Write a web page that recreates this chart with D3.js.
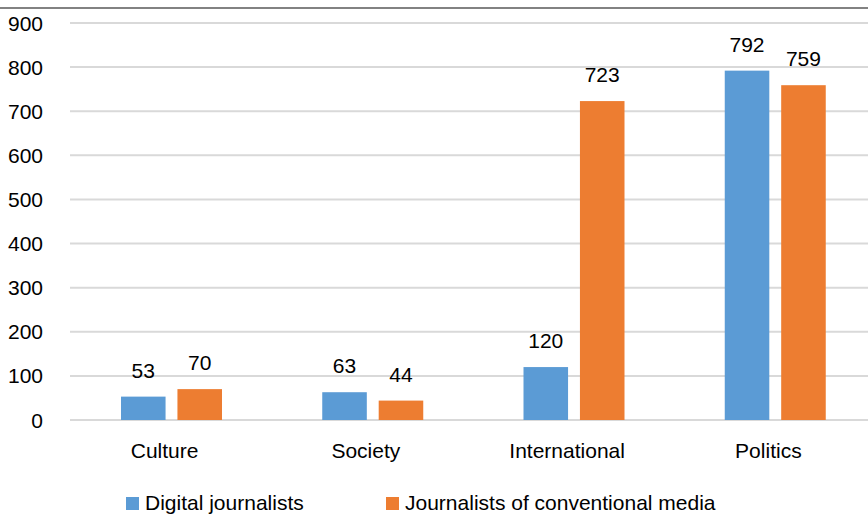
<!DOCTYPE html>
<html><head><meta charset="utf-8">
<script src="https://cdn.jsdelivr.net/npm/d3@7"></script>
<style>body{margin:0;background:#fff}svg{display:block;font-family:"Liberation Sans",Arial,sans-serif}</style>
</head><body><svg id="c" width="868" height="517"></svg>
<script>
const categories = ["Culture","Society","International","Politics"];
const seriesNames = ["Digital journalists","Journalists of conventional media"];
const digital = [53,63,120,792];
const conventional = [70,44,723,759];
const yTicks = [0,100,200,300,400,500,600,700,800,900];
const colors = ["#5B9BD5","#ED7D31"];

const svg = d3.select("#c");
const W = 868, H = 517;
const x0 = d3.scaleBand().domain(categories).range([71, 876]).padding(0);
const x1 = d3.scaleBand().domain(seriesNames).range([50, 151]).paddingInner(12/57).paddingOuter(0);
const y = d3.scaleLinear().domain([0, 900]).range([420, 23]);

// top border line
svg.append("line").attr("x1",0).attr("x2",W).attr("y1",8).attr("y2",8)
  .attr("stroke","#595959").attr("stroke-width",1.5);

// gridlines
svg.append("g").selectAll("line").data(yTicks).join("line")
  .attr("x1",70).attr("x2",W).attr("y1",d=>y(d)).attr("y2",d=>y(d))
  .attr("stroke","#D9D9D9").attr("stroke-width",2);

// y tick labels
svg.append("g").selectAll("text").data(yTicks).join("text")
  .attr("x",43).attr("y",d=>y(d)).attr("dy","0.36em").attr("text-anchor","end")
  .attr("font-size",21).attr("fill","#000").text(d=>d);

const data = categories.map((c,i)=>({cat:c, vals:[digital[i], conventional[i]]}));
const g = svg.append("g").selectAll("g").data(data).join("g")
  .attr("transform",d=>`translate(${x0(d.cat)},0)`);
g.selectAll("rect").data(d=>d.vals.map((v,j)=>({s:seriesNames[j],v,j}))).join("rect")
  .attr("x",d=>x1(d.s)).attr("width",x1.bandwidth())
  .attr("y",d=>y(d.v)).attr("height",d=>y(0)-y(d.v))
  .attr("fill",d=>colors[d.j]);
g.selectAll("text.v").data(d=>d.vals.map((v,j)=>({s:seriesNames[j],v,j}))).join("text")
  .attr("class","v")
  .attr("x",d=>x1(d.s)+x1.bandwidth()/2).attr("y",d=>y(d.v)-19)
  .attr("text-anchor","middle").attr("font-size",21).attr("fill","#000").text(d=>d.v);

// category labels
svg.append("g").selectAll("text").data(categories).join("text")
  .attr("x",d=>x0(d)+x0.bandwidth()/2-7).attr("y",458)
  .attr("text-anchor","middle").attr("font-size",21).attr("fill","#000").text(d=>d);

// legend
const legX = [126, 386];
const lg = svg.append("g").selectAll("g").data(seriesNames).join("g")
  .attr("transform",(d,i)=>`translate(${legX[i]},0)`);
lg.append("rect").attr("x",0).attr("y",497).attr("width",13).attr("height",13).attr("fill",(d,i)=>colors[i]);
lg.append("text").attr("x",19).attr("y",510).attr("font-size",21).attr("fill","#000").text(d=>d);
</script></body></html>
